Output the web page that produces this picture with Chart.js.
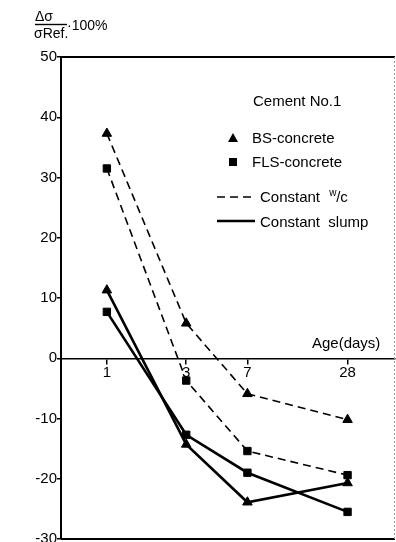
<!DOCTYPE html>
<html>
<head>
<meta charset="utf-8">
<script src="https://cdn.jsdelivr.net/npm/chart.js@4"></script>
<style>
  html, body { margin: 0; padding: 0; background: #fff; }
</style>
</head>
<body>
<canvas id="chart" width="396" height="542"></canvas>
<script>
// Age in days (log scale) and the curves
const days = [1, 3, 7, 28];
const dayLabels = ['1', '3', '7', '28'];
const yMin = -30;
const yMax = 50;
const yStep = 10;

const bsConstWc = [37.3, 5.8, -5.9, -10.2];
const flsConstWc = [31.5, -3.7, -15.4, -19.4];
const bsConstSlump = [11.3, -14.3, -23.9, -20.7];
const flsConstSlump = [7.7, -12.7, -19.0, -25.5];

const FONT = '"Liberation Sans", Arial, sans-serif';

function toPoints(values) {
  return days.map((d, i) => ({ x: d, y: values[i] }));
}

function makeSet(label, values, marker, dashed) {
  return {
    label: label,
    data: toPoints(values),
    borderColor: '#000',
    backgroundColor: '#000',
    borderWidth: dashed ? 1.6 : 2.6,
    borderDash: dashed ? [8, 5] : [],
    pointStyle: marker,
    pointRadius: marker === 'triangle' ? 5.5 : 5.2,
    pointBorderWidth: 1,
    pointBackgroundColor: '#000',
    pointBorderColor: '#000',
    tension: 0,
    fill: false
  };
}

// frame, title, axis caption and legend
const decorations = {
  id: 'decorations',
  afterDraw(chart) {
    const ctx = chart.ctx;
    const area = chart.chartArea;
    ctx.save();

    // frame around the plot
    ctx.strokeStyle = '#000';
    ctx.lineWidth = 2;
    ctx.beginPath();
    ctx.moveTo(area.left, area.top);
    ctx.lineTo(area.right, area.top);
    ctx.moveTo(area.left, area.bottom);
    ctx.lineTo(area.right, area.bottom);
    ctx.stroke();
    ctx.strokeStyle = '#999';
    ctx.lineWidth = 1;
    ctx.setLineDash([2, 2]);
    ctx.beginPath();
    ctx.moveTo(area.right - 0.5, area.top);
    ctx.lineTo(area.right - 0.5, area.bottom);
    ctx.stroke();
    ctx.setLineDash([]);
    ctx.strokeStyle = '#000';

    // y-axis title: Δσ / σRef. · 100%
    ctx.fillStyle = '#000';
    ctx.textBaseline = 'alphabetic';
    ctx.textAlign = 'left';
    ctx.font = '14px ' + FONT;
    ctx.fillText('Δσ', 35, 21);
    ctx.fillText('σRef.', 34, 38);
    ctx.lineWidth = 1.4;
    ctx.beginPath();
    ctx.moveTo(35, 24.5);
    ctx.lineTo(67, 24.5);
    ctx.stroke();
    ctx.font = '14px ' + FONT;
    ctx.fillText('·100%', 67, 30);

    // x-axis caption
    ctx.font = '15px ' + FONT;
    ctx.fillText('Age(days)', 312, 348);

    // legend
    ctx.fillText('Cement No.1', 253, 106);
    ctx.fillText('BS-concrete', 252, 143);
    ctx.fillText('FLS-concrete', 252, 167);

    ctx.beginPath();
    ctx.moveTo(233, 133);
    ctx.lineTo(238, 142);
    ctx.lineTo(228, 142);
    ctx.closePath();
    ctx.fill();
    ctx.fillRect(229, 158, 8, 8);

    ctx.lineWidth = 1.6;
    ctx.setLineDash([8, 5]);
    ctx.beginPath();
    ctx.moveTo(217, 197);
    ctx.lineTo(255, 197);
    ctx.stroke();
    ctx.setLineDash([]);
    ctx.fillText('Constant', 260, 202);
    const cw = ctx.measureText('Constant ').width;
    ctx.font = '10px ' + FONT;
    ctx.fillText('w', 260 + cw + 5, 196);
    ctx.font = '15px ' + FONT;
    ctx.fillText('/c', 260 + cw + 12, 202);

    ctx.lineWidth = 2.6;
    ctx.beginPath();
    ctx.moveTo(217, 221);
    ctx.lineTo(255, 221);
    ctx.stroke();
    ctx.fillText('Constant  slump', 260, 227);

    ctx.restore();
  }
};

const ctx = document.getElementById('chart').getContext('2d');
const chart = new Chart(ctx, {
  type: 'line',
  data: {
    datasets: [
      makeSet('BS-concrete, constant w/c', bsConstWc, 'triangle', true),
      makeSet('FLS-concrete, constant w/c', flsConstWc, 'rect', true),
      makeSet('BS-concrete, constant slump', bsConstSlump, 'triangle', false),
      makeSet('FLS-concrete, constant slump', flsConstSlump, 'rect', false)
    ]
  },
  options: {
    responsive: false,
    animation: false,
    layout: {
      autoPadding: false,
      padding: { top: 57, right: 1, bottom: 3, left: 0 }
    },
    plugins: {
      legend: { display: false },
      tooltip: { enabled: false }
    },
    scales: {
      x: {
        type: 'logarithmic',
        position: { y: 0 },
        min: 0.53,
        max: 54,
        afterBuildTicks: (scale) => {
          scale.ticks = days.map(v => ({ value: v }));
        },
        afterFit: (scale) => {
          scale.paddingLeft = 0;
          scale.paddingRight = 0;
        },
        ticks: {
          callback: (value, index) => dayLabels[index],
          color: '#000',
          font: { family: FONT, size: 15 },
          padding: 1,
          maxRotation: 0,
          autoSkip: false
        },
        grid: {
          drawOnChartArea: false,
          tickLength: 5,
          color: '#000',
          lineWidth: 1.5
        },
        border: { display: true, color: '#000', width: 1.5 }
      },
      y: {
        type: 'linear',
        min: yMin,
        max: yMax,
        afterFit: (scale) => {
          scale.width = 61;
          scale.paddingTop = 0;
          scale.paddingBottom = 0;
        },
        ticks: {
          stepSize: yStep,
          color: '#000',
          font: { family: FONT, size: 15 },
          padding: 0
        },
        grid: {
          drawOnChartArea: false,
          tickLength: 4,
          color: '#000',
          lineWidth: 1.5
        },
        border: { display: true, color: '#000', width: 2 }
      }
    }
  },
  plugins: [decorations]
});
</script>
</body>
</html>
